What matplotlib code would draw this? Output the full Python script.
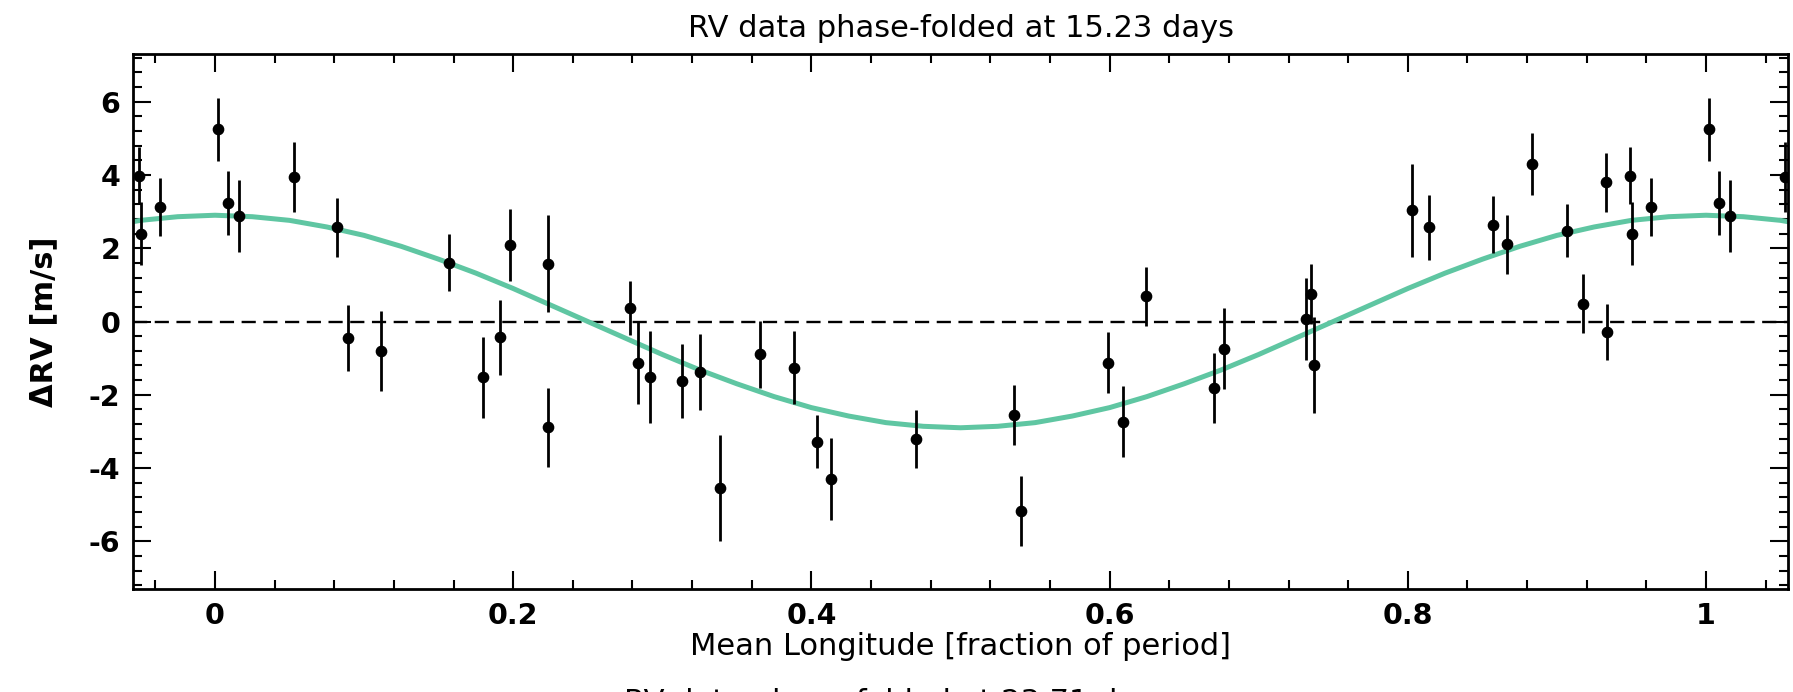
import matplotlib
matplotlib.use("Agg")
import matplotlib.pyplot as plt
from matplotlib.ticker import MultipleLocator, FuncFormatter
import numpy as np

# ---- data (phase in [0,1)) ----
phase = [0.0018, 0.0090, 0.0164, 0.0533, 0.0816, 0.0895, 0.1114, 0.1570,
         0.1800, 0.1914, 0.1980, 0.2236, 0.2232, 0.2784, 0.2840, 0.2918,
         0.3130, 0.3255, 0.3390, 0.3656, 0.3886, 0.4036, 0.4134, 0.4702,
         0.5361, 0.5406, 0.5992, 0.6088, 0.6245, 0.6698, 0.6770, 0.7318,
         0.7351, 0.7373, 0.8026, 0.8145, 0.8570, 0.8666, 0.8830, 0.9066,
         0.9178, 0.9327, 0.9334, 0.9488, 0.9502, 0.9634]
drv = [5.24, 3.23, 2.88, 3.95, 2.57, -0.45, -0.81, 1.61,
       -1.52, -0.43, 2.08, 1.58, -2.89, 0.37, -1.12, -1.52,
       -1.62, -1.38, -4.55, -0.90, -1.26, -3.28, -4.30, -3.21,
       -2.55, -5.18, -1.12, -2.73, 0.69, -1.82, -0.74, 0.07,
       0.76, -1.19, 3.03, 2.57, 2.64, 2.11, 4.30, 2.48,
       0.49, 3.80, -0.28, 3.98, 2.39, 3.12]
err = [0.86, 0.87, 0.99, 0.95, 0.81, 0.91, 1.10, 0.79,
       1.10, 1.03, 0.98, 1.32, 1.07, 0.73, 1.12, 1.25,
       1.00, 1.03, 1.44, 0.91, 0.99, 0.73, 1.13, 0.80,
       0.82, 0.96, 0.84, 0.96, 0.80, 0.96, 1.11, 1.12,
       0.82, 1.30, 1.26, 0.88, 0.78, 0.81, 0.84, 0.73,
       0.81, 0.81, 0.76, 0.77, 0.86, 0.80]

# model curve, every 0.025 in phase
model_phase = [-0.075, -0.050, -0.025, 0.000, 0.025, 0.050, 0.075, 0.100,
               0.125, 0.150, 0.175, 0.200, 0.225, 0.250, 0.275, 0.300,
               0.325, 0.350, 0.375, 0.400, 0.425, 0.450, 0.475, 0.500,
               0.525, 0.550, 0.575, 0.600, 0.625, 0.650, 0.675, 0.700,
               0.725, 0.750, 0.775, 0.800, 0.825, 0.850, 0.875, 0.900,
               0.925, 0.950, 0.975, 1.000, 1.025, 1.050, 1.075]
model_rv = [2.58, 2.76, 2.86, 2.90, 2.86, 2.76, 2.58, 2.35,
            2.05, 1.70, 1.32, 0.90, 0.45, 0.00, -0.45, -0.90,
            -1.32, -1.70, -2.05, -2.35, -2.58, -2.76, -2.86, -2.90,
            -2.86, -2.76, -2.58, -2.35, -2.05, -1.70, -1.32, -0.90,
            -0.45, 0.00, 0.45, 0.90, 1.32, 1.70, 2.05, 2.35,
            2.58, 2.76, 2.86, 2.90, 2.86, 2.76, 2.58]

title = "RV data phase-folded at 15.23 days"
next_title = "RV data phase-folded at 23.71 days"
xlabel = "Mean Longitude [fraction of period]"
ylabel = "\u0394RV [m/s]"
XLIM = (-0.055, 1.055)
YLIM = (-7.3, 7.3)

# ---- figure ----
W, H = 1793, 692
fig = plt.figure(figsize=(W / 100, H / 100), dpi=100)
l, r, t, b = 133, 1788, 54, 589
ax = fig.add_axes([l / W, 1 - b / H, (r - l) / W, (b - t) / H])

FONT = "DejaVu Sans"

ax.plot(model_phase, model_rv, color="#5fc6a2", lw=3.6, zorder=2,
        solid_joinstyle="round")
ax.axhline(0, color="black", lw=1.7, ls=(0, (6.0, 3.2)), zorder=1)

ph = np.array(phase)
y = np.array(drv)
e = np.array(err)
for shift in (-1.0, 0.0, 1.0):
    xs = ph + shift
    m = (xs >= XLIM[0] - 0.002) & (xs <= XLIM[1] + 0.002)
    if m.any():
        ax.errorbar(xs[m], y[m], yerr=e[m], fmt="o", color="black",
                    ms=7.4, elinewidth=2.0, capsize=0, zorder=3,
                    clip_on=True)

ax.set_xlim(*XLIM)
ax.set_ylim(*YLIM)
ax.xaxis.set_major_locator(MultipleLocator(0.2))
ax.xaxis.set_minor_locator(MultipleLocator(0.04))
ax.yaxis.set_major_locator(MultipleLocator(2))
ax.yaxis.set_minor_locator(MultipleLocator(0.4))
fmt = FuncFormatter(lambda v, p: ("%g" % round(v, 6)).replace("\u2212", "-"))
ax.xaxis.set_major_formatter(fmt)
ax.yaxis.set_major_formatter(fmt)

ax.tick_params(which="both", direction="in", top=True, right=True,
               width=1.5, color="black")
ax.tick_params(which="major", length=13, labelsize=20.5, pad=9)
ax.tick_params(which="minor", length=6.5)
for lab in ax.get_xticklabels() + ax.get_yticklabels():
    lab.set_fontfamily(FONT)
    lab.set_fontweight("bold")
for s in ax.spines.values():
    s.set_linewidth(2.0)

ax.set_title(title, fontsize=22, family=FONT, pad=12)
ax.set_xlabel(xlabel, fontsize=22, family=FONT, labelpad=2)
ax.set_ylabel(ylabel, fontsize=22, family=FONT, fontweight="bold",
              labelpad=22)

fig.text(0.5, 1 - 688 / H, next_title, ha="center", va="top",
         fontsize=22, family=FONT)

fig.savefig("out.png", dpi=100)
